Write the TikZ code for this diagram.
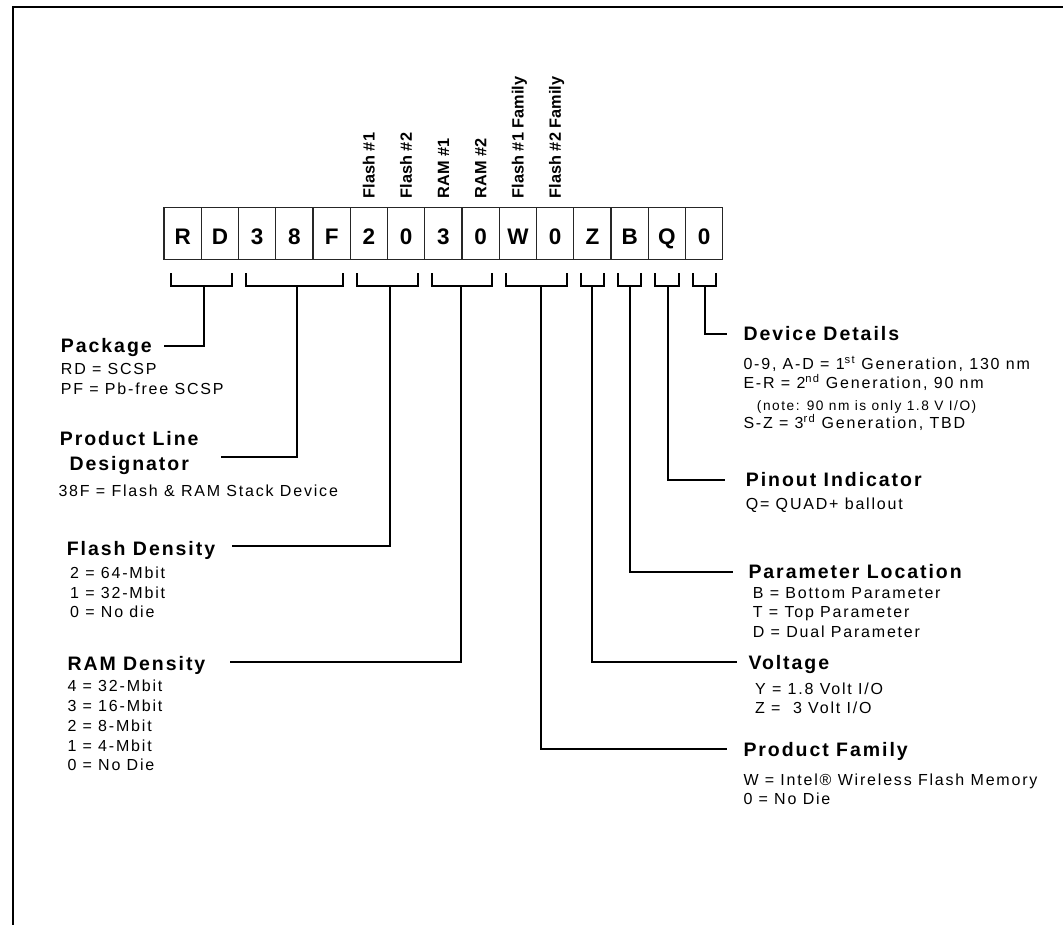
\documentclass[tikz,border=0pt]{standalone}
\usepackage{fontspec}
\setmainfont{Liberation Sans}
\newfontfamily\trkfont[LetterSpace=10]{Liberation Sans}
\newfontfamily\bodyfont[LetterSpace=11.3]{Liberation Sans}
\usetikzlibrary{calc}
\tikzset{
  cell/.style={draw=black!85, line width=1.1pt, minimum width=37.25pt, minimum height=52pt,
    inner sep=0pt, outer sep=0pt, font=\bfseries\fontsize{22.5}{25}\selectfont,
    text height=23.4pt, text depth=0pt},
  vlab/.style={rotate=90, anchor=base west, inner sep=0pt, font=\bfseries\fontsize{16.3}{18}\selectfont},
  hd/.style={anchor=base west, inner sep=0pt, font=\trkfont\bfseries\fontsize{19.5}{23}\selectfont},
  bd/.style={anchor=base west, inner sep=0pt, font=\bodyfont\fontsize{16}{19.8}\selectfont},
  nt/.style={anchor=base west, inner sep=0pt, font=\bodyfont\fontsize{13.7}{16}\selectfont},
  brk/.style={line width=2pt, line join=miter},
  conn/.style={line width=2pt, line join=miter},
  frame/.style={line width=2pt, line join=miter}
}
\begin{document}
\begin{tikzpicture}[x=1pt,y=-1pt]
\useasboundingbox (0,0) rectangle (1063,925);
% frame
\draw[frame] (13.3,925) -- (13.3,6.7) -- (1063,6.7);

% code boxes
\foreach \t [count=\i] in {R,D,3,8,F,2,0,3,0,W,0,Z,B,Q,0}{
  \node[cell] (b\i) at ({164+37.25*(\i-0.5)},233.3) {\t};
}

% rotated labels
\node[vlab] (lf1) at ($(b6.north)+(5.7,-9)$) {Flash \#1};
\node[vlab] (lf2) at ($(b7.north)+(5.7,-9)$) {Flash \#2};
\node[vlab] (lr1) at ($(b8.north)+(5.7,-9)$) {RAM \#1};
\node[vlab] (lr2) at ($(b9.north)+(5.7,-9)$) {RAM \#2};
\node[vlab] (lff1) at ($(b10.north)+(5.7,-9)$) {Flash \#1 Family};
\node[vlab] (lff2) at ($(b11.north)+(5.7,-9)$) {Flash \#2 Family};

% brackets
\foreach \a/\b in {1/2,3/5,6/7,8/9,10/11,12/12,13/13,14/14,15/15}{
  \draw[brk] ($(b\a.south west)+(7,14)$) -- ++(0,12.7) -| ($(b\b.south east)+(-7,14)$);
}

% stems and connector ends
\coordinate (s1) at (204.3,286);  \coordinate (e1) at (164,345.7);
\coordinate (s2) at (296.7,286);  \coordinate (e2) at (221,456.7);
\coordinate (s3) at (390,286);    \coordinate (e3) at (231.7,546);
\coordinate (s4) at (461,286);    \coordinate (e4) at (230,661.7);
\coordinate (s5) at (540.7,286);  \coordinate (e5) at (726.7,749.3);
\coordinate (s6) at (592.3,286);  \coordinate (e6) at (736.7,661.7);
\coordinate (s7) at (630,286);    \coordinate (e7) at (733.3,571.7);
\coordinate (s8) at (667.7,286);  \coordinate (e8) at (725,480);
\coordinate (s9) at (705,286);    \coordinate (e9) at (726.7,334);
\foreach \k in {1,...,9}{ \draw[conn] (s\k) |- (e\k); }

% left column
\node[hd] (pkg) at (60.7,352.3) {Package};
\node[bd] (pkgt) at (60.7,374.3) {\begin{tabular}[t]{@{}l@{}}RD = SCSP\\PF = Pb-free SCSP\end{tabular}};

\node[hd, anchor=base] (plda) at (129.2,445) {Product Line};
\node[hd, anchor=base] (pldb) at (129.2,470) {Designator};
\node[bd] (pldt) at (58.3,496.7) {38F = Flash \& RAM Stack Device};

\node[hd] (fd) at (66.7,555) {Flash Density};
\node[bd] (fdt) at (70,578.3) {\begin{tabular}[t]{@{}l@{}}2 = 64-Mbit\\1 = 32-Mbit\\0 = No die\end{tabular}};

\node[hd] (rd) at (67.3,670) {RAM Density};
\node[bd] (rdt) at (67.3,691.7) {\begin{tabular}[t]{@{}l@{}}4 = 32-Mbit\\3 = 16-Mbit\\2 = 8-Mbit\\1 = 4-Mbit\\0 = No Die\end{tabular}};

% right column
\node[hd] (dd) at (743.3,340.7) {Device Details};
\node[bd] (dd1) at (743.3,370) {0-9, A-D = 1\textsuperscript{st} Generation, 130 nm};
\node[bd] (dd2) at (743.3,388.3) {E-R = 2\textsuperscript{nd} Generation, 90 nm};
\node[nt] (dd3) at (756.7,410) {(note: 90 nm is only 1.8 V I/O)};
\node[bd] (dd4) at (743.3,428.3) {S-Z = 3\textsuperscript{rd} Generation, TBD};

\node[hd] (pi) at (745.7,486.7) {Pinout Indicator};
\node[bd] (pit) at (745.7,509) {Q= QUAD+ ballout};

\node[hd] (pl) at (748.3,578.3) {Parameter Location};
\node[bd] (plt) at (752.7,598) {\begin{tabular}[t]{@{}l@{}}B = Bottom Parameter\\T = Top Parameter\\D = Dual Parameter\end{tabular}};

\node[hd] (vo) at (748.3,669) {Voltage};
\node[bd] (vot) at (755,694) {\begin{tabular}[t]{@{}l@{}}Y = 1.8 Volt I/O\\Z = \ 3 Volt I/O\end{tabular}};

\node[hd] (pf) at (743.3,756.7) {Product Family};
\node[bd] (pft) at (743.3,785) {\begin{tabular}[t]{@{}l@{}}W = Intel® Wireless Flash Memory\\0 = No Die\end{tabular}};
\end{tikzpicture}
\end{document}
